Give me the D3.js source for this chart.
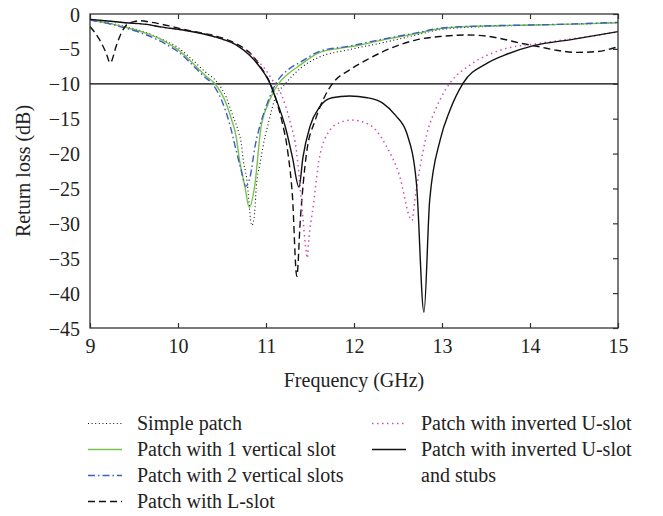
<!DOCTYPE html>
<html>
<head>
<meta charset="utf-8">
<script src="https://cdn.jsdelivr.net/npm/d3@7"></script>
<style>
  body { margin: 0; background: #fff; }
  svg { font-family: "Liberation Serif", "DejaVu Serif", serif; }
</style>
</head>
<body>
<svg id="chart"></svg>
<script>
// values, [GHz, dB]
const simplePatch = [
  [9.0, -0.85], [9.2, -1.25], [9.4, -1.8], [9.6, -2.5], [9.8, -3.5], [9.9, -4.1], [10.0, -4.8],
  [10.14, -6.3], [10.31, -8.3], [10.46, -10], [10.55, -12], [10.62, -14.5], [10.69, -17.0],
  [10.72, -18.6], [10.74, -20.8], [10.78, -23.5], [10.84, -30.3], [10.87, -28.6], [10.89, -24.7],
  [10.93, -21.6], [10.96, -19.4], [10.99, -17.5], [11.02, -16], [11.1, -12.2], [11.22, -10],
  [11.39, -7.8], [11.6, -6.2], [11.95, -5.1], [12.33, -4.1], [12.71, -3.0], [13.0, -2.2],
  [13.5, -1.8], [14.0, -1.6], [14.5, -1.45], [15.0, -1.25]
];
const oneSlot = [
  [9.0, -0.85], [9.2, -1.3], [9.4, -1.9], [9.6, -2.6], [9.8, -3.6], [9.9, -4.3], [10.0, -5.1],
  [10.14, -6.7], [10.31, -8.8], [10.42, -10], [10.55, -12.9], [10.61, -15.2], [10.66, -17.5],
  [10.7, -21], [10.76, -24.7], [10.81, -27.7], [10.875, -24.3], [10.94, -16.5], [11.02, -13],
  [11.08, -11.3], [11.14, -10], [11.25, -8.6], [11.39, -7.3], [11.61, -5.5], [11.8, -5.0],
  [12.07, -4.45], [12.33, -3.7], [12.71, -2.8], [13.01, -2.05], [13.28, -1.8], [14.03, -1.58],
  [14.5, -1.45], [15.0, -1.25]
];
const twoSlots = [
  [9.0, -0.85], [9.2, -1.35], [9.4, -2.0], [9.6, -2.8], [9.8, -3.9], [9.9, -4.6], [10.0, -5.4],
  [10.14, -7.0], [10.3, -9.0], [10.39, -10], [10.5, -12.5], [10.59, -15.9], [10.66, -19.5],
  [10.72, -22.5], [10.77, -24.7], [10.82, -23.3], [10.875, -19], [10.95, -15.2], [11.02, -12.6],
  [11.11, -10], [11.25, -8.0], [11.39, -6.9], [11.61, -5.35], [11.95, -4.6], [12.33, -3.6],
  [12.71, -2.7], [13.0, -2.0], [13.5, -1.7], [14.0, -1.58], [14.5, -1.42], [15.0, -1.2]
];
const lSlot = [
  [9.0, -1.8], [9.1, -3.5], [9.18, -5.5], [9.23, -7.0], [9.3, -4.5], [9.36, -2.6], [9.42, -1.5],
  [9.5, -1.1], [9.57, -0.96], [9.7, -1.2], [9.9, -1.7], [10.06, -2.2], [10.3, -2.8], [10.44, -3.2],
  [10.6, -3.9], [10.75, -4.9], [10.85, -6.0], [10.95, -7.8], [11.05, -10], [11.12, -12.5],
  [11.18, -15.3], [11.25, -20], [11.3, -26], [11.35, -37.6], [11.39, -29.5], [11.46, -20],
  [11.56, -15.2], [11.66, -12.0], [11.76, -9.9], [11.95, -8.0], [12.14, -6.6], [12.4, -5.0],
  [12.71, -3.7], [13.0, -3.2], [13.28, -3.0], [13.5, -3.15], [13.66, -3.5], [13.9, -4.2],
  [14.11, -4.7], [14.3, -5.2], [14.53, -5.5], [14.75, -5.4], [15.0, -4.7]
];
const uSlot = [
  [9.0, -0.77], [9.2, -1.0], [9.4, -1.25], [9.68, -1.55], [9.8, -1.85], [10.06, -2.3],
  [10.44, -3.35], [10.67, -4.5], [10.86, -6.2], [10.99, -7.9], [11.08, -9.6], [11.18, -11.7],
  [11.27, -15.3], [11.35, -20], [11.405, -27.2], [11.46, -34.3], [11.47, -35], [11.48, -33.3],
  [11.54, -27.2], [11.61, -20.4], [11.73, -16.6], [11.85, -15.5], [11.97, -15.2], [12.18, -15.9],
  [12.37, -19], [12.52, -23.3], [12.64, -29.3], [12.66, -29.6], [12.69, -26.7], [12.75, -22],
  [12.83, -17.1], [12.94, -13.3], [13.09, -9.9], [13.32, -7.3], [13.66, -5.2], [14.11, -4.2],
  [14.68, -3.2], [15.0, -2.55]
];
const uSlotStubs = [
  [9.0, -0.77], [9.2, -1.0], [9.4, -1.25], [9.68, -1.55], [9.8, -1.85], [10.06, -2.3],
  [10.44, -3.35], [10.67, -4.5], [10.82, -6.0], [10.93, -7.6], [11.03, -9.55], [11.12, -12.4],
  [11.22, -16.2], [11.3, -20.5], [11.375, -24.8], [11.42, -20.5], [11.5, -16.1], [11.61, -13.3],
  [11.75, -12.0], [11.95, -11.75], [12.15, -12.0], [12.33, -12.8], [12.47, -14.5], [12.6, -17.1],
  [12.71, -24.3], [12.795, -42.75], [12.86, -26.7], [12.98, -18], [13.09, -13.8], [13.24, -9.9],
  [13.51, -7.07], [13.75, -5.7], [14.04, -4.54], [14.5, -3.6], [15.0, -2.53]
];
const xTicks = [9, 10, 11, 12, 13, 14, 15];
const yTicks = [0, -5, -10, -15, -20, -25, -30, -35, -40, -45];
const threshold = -10;

const width = 663, height = 516;
const margin = { top: 14, right: 45, bottom: 188, left: 90 };
const w = width - margin.left - margin.right;
const h = height - margin.top - margin.bottom;

const svg = d3.select('#chart').attr('width', width).attr('height', height);
const g = svg.append('g').attr('transform', `translate(${margin.left},${margin.top})`);

const x = d3.scaleLinear().domain([9, 15]).range([0, w]);
const y = d3.scaleLinear().domain([0, -45]).range([0, h]);

g.append('clipPath').attr('id', 'clip')
  .append('rect').attr('width', w).attr('height', h);

const series = [
  { name: 'Simple patch', data: simplePatch, color: '#111', dash: '1,2.6', width: 1.1 },
  { name: 'Patch with 1 vertical slot', data: oneSlot, color: '#79c24f', dash: null, width: 1.4 },
  { name: 'Patch with 2 vertical slots', data: twoSlots, color: '#3b5fc2', dash: '7,3,1.5,3', width: 1.4 },
  { name: 'Patch with L-slot', data: lSlot, color: '#111', dash: '7,4', width: 1.4 },
  { name: 'Patch with inverted U-slot', data: uSlot, color: '#d24fae', dash: '1.5,3.5', width: 1.5 },
  { name: 'Patch with inverted U-slot', name2: 'and stubs', data: uSlotStubs, color: '#111', dash: null, width: 1.4 }
];

const line = d3.line()
  .x(d => x(d[0]))
  .y(d => y(d[1]))
  .curve(d3.curveMonotoneX);

const plot = g.append('g').attr('clip-path', 'url(#clip)');

// -10 dB reference line
plot.append('line')
  .attr('x1', 0).attr('x2', w)
  .attr('y1', y(threshold)).attr('y2', y(threshold))
  .attr('stroke', '#000').attr('stroke-width', 1.3);

series.forEach(s => {
  plot.append('path')
    .datum(s.data)
    .attr('fill', 'none')
    .attr('stroke', s.color)
    .attr('stroke-width', s.width)
    .attr('stroke-dasharray', s.dash)
    .attr('d', line);
});

// axes: ticks point inward on bottom/top/right
const fontSize = 20;
const axBottom = g.append('g')
  .attr('transform', `translate(0,${h})`)
  .call(d3.axisBottom(x).tickValues(xTicks).tickSize(-5).tickPadding(11).tickFormat(d3.format('d')));
const axTop = g.append('g')
  .call(d3.axisTop(x).tickValues(xTicks).tickSize(-5).tickFormat(''));
const axRight = g.append('g')
  .attr('transform', `translate(${w},0)`)
  .call(d3.axisRight(y).tickValues(yTicks).tickSize(-5).tickFormat(''));
const axLeft = g.append('g')
  .call(d3.axisLeft(y).tickValues(yTicks).tickSize(0).tickPadding(10));

[axBottom, axTop, axRight, axLeft].forEach(a => {
  a.select('.domain').remove();
  a.selectAll('line').attr('stroke', '#333').attr('stroke-width', 1.2);
  a.selectAll('text').attr('font-size', fontSize).attr('fill', '#222')
    .style('font-family', '"Liberation Serif", serif');
});
axLeft.selectAll('text').attr('dy', '0.35em');

g.append('rect')
  .attr('width', w).attr('height', h)
  .attr('fill', 'none').attr('stroke', '#333').attr('stroke-width', 1.3);

g.append('text')
  .attr('x', w / 2).attr('y', h + 59)
  .attr('text-anchor', 'middle')
  .attr('font-size', fontSize).attr('fill', '#222')
  .text('Frequency (GHz)');

svg.append('text')
  .attr('transform', `translate(30,${margin.top + h / 2}) rotate(-90)`)
  .attr('text-anchor', 'middle')
  .attr('font-size', fontSize).attr('fill', '#222')
  .text('Return loss (dB)');

// legend, two columns
const legendRows = [423.5, 449.5, 475.5, 501.5];
const legendCols = [88, 372];
const slots = [[0, 0], [0, 1], [0, 2], [0, 3], [1, 0], [1, 1]];
series.forEach((s, i) => {
  const [c, r] = slots[i];
  const lx = legendCols[c], ly = legendRows[r];
  const item = svg.append('g');
  item.append('line')
    .attr('x1', lx).attr('x2', lx + 34)
    .attr('y1', ly).attr('y2', ly)
    .attr('stroke', s.color)
    .attr('stroke-width', s.width)
    .attr('stroke-dasharray', s.dash);
  item.append('text')
    .attr('x', lx + 49).attr('y', ly + 6)
    .attr('font-size', fontSize).attr('fill', '#222')
    .text(s.name);
  if (s.name2) {
    item.append('text')
      .attr('x', lx + 49).attr('y', legendRows[r + 1] + 6)
      .attr('font-size', fontSize).attr('fill', '#222')
      .text(s.name2);
  }
});
</script>
</body>
</html>
